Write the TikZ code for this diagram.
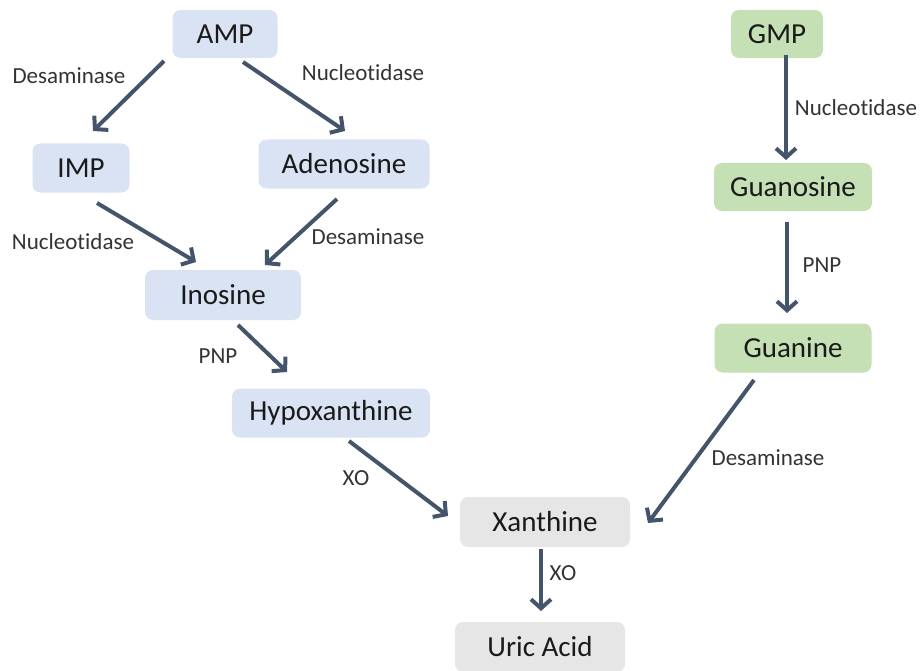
\documentclass[tikz,border=0pt]{standalone}
\usepackage{fontspec}
\setmainfont{Carlito}[Ligatures=NoCommon]
\usetikzlibrary{arrows.meta}
\definecolor{bluebox}{HTML}{DAE3F3}
\definecolor{greenbox}{HTML}{C5E0B4}
\definecolor{graybox}{HTML}{E7E6E6}
\definecolor{arrowcol}{HTML}{44546A}
\definecolor{txt}{HTML}{1A1A1A}
\begin{document}
\begin{tikzpicture}[x=1pt,y=-1pt,
  box/.style={rounded corners=8pt,inner sep=0pt,text=txt,font=\fontsize{29}{32}\selectfont},
  bluenode/.style={box,fill=bluebox},
  greennode/.style={box,fill=greenbox},
  graynode/.style={box,fill=graybox},
  lbl/.style={inner sep=0pt,text=black!80,font=\fontsize{23}{26}\selectfont},
  conn/.style={draw=arrowcol,line width=4pt,-{Straight Barb[length=9pt,width=20pt,line width=4pt]}}]
\useasboundingbox (0,0) rectangle (920,671);
% nodes
\node[bluenode,minimum width=105pt,minimum height=48pt] (amp) at (225,34) {AMP};
\node[bluenode,minimum width=97pt,minimum height=49pt] (imp) at (81,168) {IMP};
\node[bluenode,minimum width=171pt,minimum height=49pt] (ade) at (344,164) {Adenosine};
\node[bluenode,minimum width=156pt,minimum height=50pt] (ino) at (223,295) {Inosine};
\node[bluenode,minimum width=198pt,minimum height=49pt] (hyp) at (331,413) {Hypoxanthine};
\node[graynode,minimum width=170pt,minimum height=50pt] (xan) at (545,522) {Xanthine};
\node[graynode,minimum width=170pt,minimum height=50pt] (uric) at (540,647) {Uric Acid};
\node[greennode,minimum width=92pt,minimum height=48pt] (gmp) at (777,34) {GMP};
\node[greennode,minimum width=158pt,minimum height=48pt] (guo) at (793,187) {Guanosine};
\node[greennode,minimum width=157pt,minimum height=49pt] (gua) at (793,348) {Guanine};
% connector anchors
\coordinate (a1s) at (164,61); \coordinate (a1e) at (93,131);
\coordinate (a2s) at (243,62); \coordinate (a2e) at (345,131);
\coordinate (a3s) at (97,203); \coordinate (a3e) at (196,262);
\coordinate (a4s) at (337,199); \coordinate (a4e) at (265,265);
\coordinate (a5s) at (238,325); \coordinate (a5e) at (287,372);
\coordinate (a6s) at (349,441); \coordinate (a6e) at (448,516);
\coordinate (a7s) at (541,549); \coordinate (a7e) at (541,611);
\coordinate (a8s) at (786,55); \coordinate (a8e) at (786,160);
\coordinate (a9s) at (787,222); \coordinate (a9e) at (787,313);
\coordinate (a10s) at (754,380); \coordinate (a10e) at (648,523);
\draw[conn] (a1s) -- (a1e);
\draw[conn] (a2s) -- (a2e);
\draw[conn] (a3s) -- (a3e);
\draw[conn] (a4s) -- (a4e);
\draw[conn] (a5s) -- (a5e);
\draw[conn] (a6s) -- (a6e);
\draw[conn] (a7s) -- (a7e);
\draw[conn] (a8s) -- (a8e);
\draw[conn] (a9s) -- (a9e);
\draw[conn] (a10s) -- (a10e);
% labels
\node[lbl] (l1) at (69,76) {Desaminase};
\node[lbl] (l2) at (363,73) {Nucleotidase};
\node[lbl] (l3) at (856,108) {Nucleotidase};
\node[lbl] (l4) at (73,242) {Nucleotidase};
\node[lbl] (l5) at (368,237) {Desaminase};
\node[lbl] (l6) at (218,356) {PNP};
\node[lbl] (l7) at (822,265) {PNP};
\node[lbl] (l8) at (356,478) {XO};
\node[lbl] (l9) at (563,573) {XO};
\node[lbl] (l10) at (768,458) {Desaminase};
\end{tikzpicture}
\end{document}
